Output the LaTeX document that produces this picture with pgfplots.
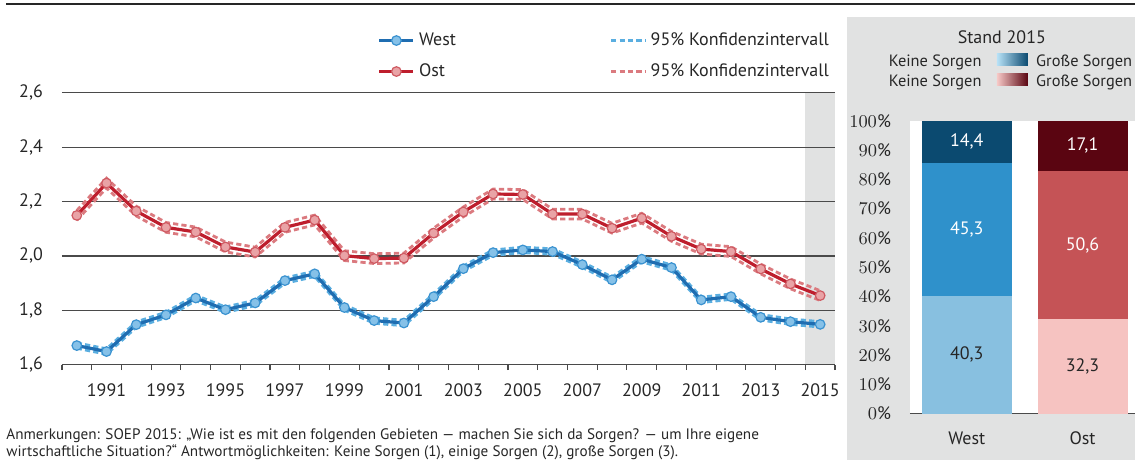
\documentclass[border=0pt]{standalone}
\usepackage{pgfplots}
\pgfplotsset{compat=1.18}
\usepackage{pgfplotstable}
\usepackage{fontspec}
\setmainfont{PT Sans}

\definecolor{wline}{HTML}{1F6DB1}
\definecolor{wmark}{HTML}{86C1E8}
\definecolor{wmarkedge}{HTML}{3A92D0}
\definecolor{wci}{HTML}{5AAEE0}
\definecolor{oline}{HTML}{BE1E2D}
\definecolor{omark}{HTML}{E9A3A6}
\definecolor{omarkedge}{HTML}{CF5A62}
\definecolor{oci}{HTML}{DB7A7F}
\definecolor{panel}{HTML}{E1E2E2}
\definecolor{gridc}{HTML}{4A4A4A}
\definecolor{txt}{HTML}{262626}
\definecolor{wb1}{HTML}{88C0E0}
\definecolor{wb2}{HTML}{2F91CB}
\definecolor{wb3}{HTML}{0B4A70}
\definecolor{ob1}{HTML}{F6C3C1}
\definecolor{ob2}{HTML}{C55356}
\definecolor{ob3}{HTML}{5A0511}
\definecolor{wgl}{HTML}{B8E2F7}
\definecolor{ogl}{HTML}{F7C9C7}

\pgfplotstableread{
year w wlo whi o olo ohi
1990 1.670 1.660 1.680 2.149 2.131 2.167
1991 1.648 1.638 1.658 2.268 2.250 2.286
1992 1.747 1.737 1.757 2.165 2.147 2.183
1993 1.783 1.773 1.793 2.105 2.087 2.123
1994 1.845 1.835 1.855 2.088 2.070 2.106
1995 1.802 1.792 1.812 2.033 2.015 2.051
1996 1.827 1.817 1.837 2.014 1.996 2.032
1997 1.909 1.899 1.919 2.105 2.087 2.123
1998 1.934 1.924 1.944 2.132 2.114 2.150
1999 1.810 1.800 1.820 2.001 1.983 2.019
2000 1.762 1.752 1.772 1.990 1.972 2.008
2001 1.753 1.743 1.763 1.992 1.974 2.010
2002 1.850 1.840 1.860 2.084 2.066 2.102
2003 1.953 1.943 1.963 2.162 2.144 2.180
2004 2.012 2.002 2.022 2.228 2.210 2.246
2005 2.022 2.012 2.032 2.226 2.208 2.244
2006 2.016 2.006 2.026 2.154 2.136 2.172
2007 1.968 1.958 1.978 2.154 2.136 2.172
2008 1.912 1.902 1.922 2.102 2.084 2.120
2009 1.988 1.978 1.998 2.139 2.121 2.157
2010 1.957 1.947 1.967 2.072 2.054 2.090
2011 1.838 1.828 1.848 2.025 2.007 2.043
2012 1.850 1.840 1.860 2.016 1.998 2.034
2013 1.774 1.764 1.784 1.952 1.934 1.970
2014 1.758 1.748 1.768 1.897 1.879 1.915
2015 1.748 1.738 1.758 1.854 1.836 1.872
}\trend

\pgfplotsset{
  westline/.style={color=wline, line width=1.6pt, mark=*, mark size=2.4pt,
    mark options={fill=wmark, draw=wmarkedge, line width=0.6pt}},
  ostline/.style={color=oline, line width=1.6pt, mark=*, mark size=2.4pt,
    mark options={fill=omark, draw=omarkedge, line width=0.6pt}},
  westci/.style={color=wci, line width=1.4pt, dash pattern=on 2.6pt off 1.6pt, mark=none},
  ostci/.style={color=oci, line width=1.4pt, dash pattern=on 2.6pt off 1.6pt, mark=none},
}

\begin{document}
\begin{tikzpicture}
\path (0,0) rectangle (568pt,230.5pt);
\fill[panel] (424pt,0pt) rectangle (568pt,222pt);
\draw[line width=1.3pt, color=black!85] (3pt,228.5pt) -- (568pt,228.5pt);

% ---------------- line chart ----------------
\begin{axis}[
  set layers,
  at={(31pt,48pt)}, anchor=south west,
  scale only axis, width=387pt, height=136pt,
  xmin=1989.5, xmax=2015.5, ymin=1.6, ymax=2.6,
  axis x line*=bottom, axis y line*=left,
  y axis line style={draw=none},
  x axis line style={-, draw=gridc, line width=0.6pt},
  xtick={1991,1993,...,2015},
  xticklabels={1991,1993,1995,1997,1999,2001,2003,2005,2007,2009,2011,2013,2015},
  minor xtick={1989.5,1990.5,...,2015.5},
  major x tick style={draw=none},
  minor x tick style={draw=gridc, line width=0.6pt},
  minor tick length=2.8pt,
  major tick length=0pt,
  tick align=outside,
  ytick={1.6,1.8,2.0,2.2,2.4,2.6},
  ytick style={draw=none},
  ymajorgrids, major grid style={gridc, line width=0.6pt},
  tick label style={font=\fontsize{9}{11}\selectfont, text=txt},
  yticklabel style={/pgf/number format/.cd, fixed, fixed zerofill, precision=1, use comma, /tikz/.cd, xshift=-6pt},
  xticklabel style={yshift=-6pt},
  /pgf/number format/assume math mode=true,
  clip=false,
  legend columns=2,
  legend cell align=left,
  legend style={at={(axis description cs:0.408,1.238)}, anchor=north west,
    draw=none, fill=none, inner sep=0pt, font=\fontsize{9}{11}\selectfont, text=txt,
    row sep=3.6pt,
    /tikz/every even column/.append style={column sep=75pt}},
]
\begin{pgfonlayer}{axis background}
\fill[panel] (axis cs:2014.5,1.6) rectangle (axis cs:2015.5,2.6);
\end{pgfonlayer}
\addplot[westci, forget plot] table[x=year, y=whi] {\trend};
\addplot[westci, forget plot] table[x=year, y=wlo] {\trend};
\addplot[ostci, forget plot] table[x=year, y=ohi] {\trend};
\addplot[ostci, forget plot] table[x=year, y=olo] {\trend};
\addplot[westline, forget plot] table[x=year, y=w] {\trend};
\addplot[ostline, forget plot] table[x=year, y=o] {\trend};
\addlegendimage{westline}
\addlegendentry{West}
\addlegendimage{westci}
\addlegendentry{95\% Konfidenzintervall}
\addlegendimage{ostline}
\addlegendentry{Ost}
\addlegendimage{ostci}
\addlegendentry{95\% Konfidenzintervall}
\end{axis}

% ---------------- footnote ----------------
\node[anchor=base west, inner sep=0pt, text=txt, font=\fontsize{7.6}{9}\selectfont] at (3pt,10.6pt)
  {Anmerkungen: SOEP 2015: „Wie ist es mit den folgenden Gebieten — machen Sie sich da Sorgen? — um Ihre eigene};
\node[anchor=base west, inner sep=0pt, text=txt, font=\fontsize{7.6}{9}\selectfont] at (3pt,2pt)
  {wirtschaftliche Situation?“ Antwortmöglichkeiten: Keine Sorgen (1), einige Sorgen (2), große Sorgen (3).};

% ---------------- right panel legend ----------------
\node[anchor=base, inner sep=0pt, text=txt, font=\fontsize{9}{11}\selectfont] at (501.5pt,208.8pt) {Stand 2015};
\node[anchor=base east, inner sep=0pt, text=txt, font=\fontsize{8.2}{10}\selectfont] at (491.5pt,197pt) {Keine Sorgen};
\node[anchor=base east, inner sep=0pt, text=txt, font=\fontsize{8.2}{10}\selectfont] at (491.5pt,187pt) {Keine Sorgen};
\node[anchor=base west, inner sep=0pt, text=txt, font=\fontsize{8.2}{10}\selectfont] at (518.5pt,197pt) {Große Sorgen};
\node[anchor=base west, inner sep=0pt, text=txt, font=\fontsize{8.2}{10}\selectfont] at (518.5pt,187pt) {Große Sorgen};
\shade[left color=wgl, right color=wb3] (499pt,197.5pt) rectangle (514.5pt,203.5pt);
\shade[left color=ogl, right color=ob3] (499pt,187.5pt) rectangle (514.5pt,193.5pt);

% ---------------- bar chart ----------------
\begin{axis}[
  at={(455.5pt,23.5pt)}, anchor=south west,
  scale only axis, width=112.5pt, height=146.5pt,
  ybar stacked, bar width=45pt,
  xmin=-0.49, xmax=1.45, ymin=0, ymax=100,
  axis background/.style={fill=white},
  axis x line*=bottom, axis y line*=left,
  y axis line style={draw=none},
  x axis line style={-, draw=gridc, line width=0.8pt},
  xtick={0,1}, xticklabels={West,Ost}, xtick style={draw=none},
  ytick={0,10,...,100}, ytick style={draw=none},
  major tick length=0pt,
  yticklabel={\pgfmathprintnumber{\tick}\%},
  tick label style={font=\fontsize{9}{11}\selectfont, text=txt},
  yticklabel style={xshift=-6pt},
  xticklabel style={yshift=-5.5pt},
  clip=false,
]
\addplot[fill=wb1, draw=none] coordinates {(0,40.3) (1,0)};
\addplot[fill=ob1, draw=none] coordinates {(0,0) (1,32.3)};
\addplot[fill=wb2, draw=none] coordinates {(0,45.3) (1,0)};
\addplot[fill=ob2, draw=none] coordinates {(0,0) (1,50.6)};
\addplot[fill=wb3, draw=none] coordinates {(0,14.4) (1,0)};
\addplot[fill=ob3, draw=none] coordinates {(0,0) (1,17.1)};
\end{axis}

% value labels (segment centres)
\begin{axis}[
  at={(455.5pt,23.5pt)}, anchor=south west,
  scale only axis, width=112.5pt, height=146.5pt,
  xmin=-0.49, xmax=1.45, ymin=0, ymax=100,
  hide axis, clip=false,
]
\addplot[draw=none, nodes near coords, point meta=explicit symbolic,
  nodes near coords style={anchor=center, text=white, font=\fontsize{9}{11}\selectfont}]
  coordinates {(0,92.8) [14{,}4] (1,91.45) [17{,}1] (0,62.95) [45{,}3] (1,57.6) [50{,}6]};
\addplot[draw=none, nodes near coords, point meta=explicit symbolic,
  nodes near coords style={anchor=center, text=txt, font=\fontsize{9}{11}\selectfont}]
  coordinates {(0,20.15) [40{,}3] (1,16.15) [32{,}3]};
\end{axis}
\end{tikzpicture}
\end{document}
